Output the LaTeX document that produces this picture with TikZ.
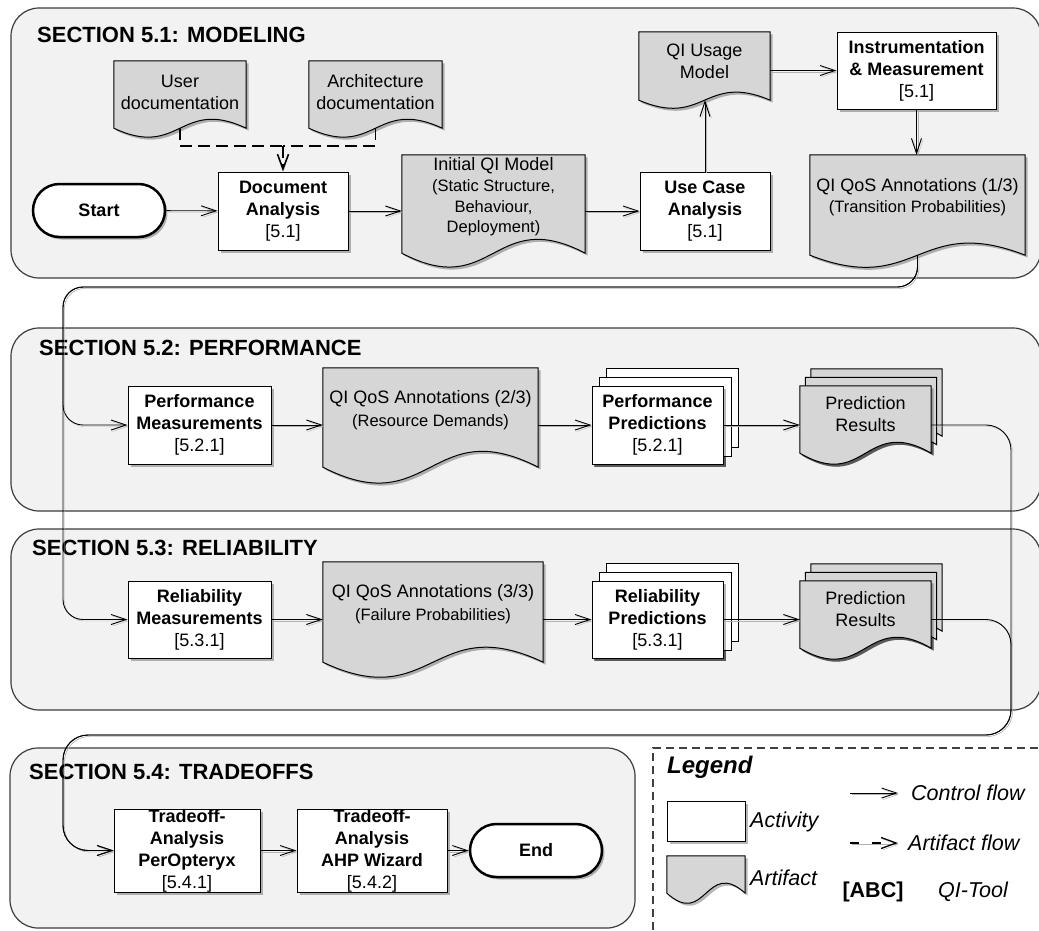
\documentclass[tikz,border=0pt]{standalone}
\usepackage{fontspec}
\setmainfont{Liberation Sans}
\usetikzlibrary{arrows.meta,shadows}

\pgfdeclarelayer{seclayer}
\pgfdeclarelayer{shapelayer}
\pgfsetlayers{seclayer,shapelayer,main}

\definecolor{secfill}{RGB}{242,242,242}
\definecolor{artfill}{RGB}{214,214,214}
\definecolor{secline}{RGB}{60,60,60}

\newcommand\fmain{\fontsize{18}{22}\selectfont}
\newcommand\fsub{\fontsize{16.5}{21}\selectfont}
\newcommand\ftitle{\fontsize{22}{26}\selectfont\bfseries}
\newcommand\flegend{\fontsize{21.5}{26}\selectfont}

% document (artifact) outline around a node: #1 extra options, #2 node,
% #3 how far the sides reach below the node box, #4 wave control offset
\newcommand\docshape[4][]{%
  \filldraw[artifactline,#1] (#2.north west) -- (#2.north east)
    -- ([yshift={-#3pt}]#2.south east)
    .. controls ([yshift={-#3pt+#4pt}]#2.south) and ([yshift={-#3pt-#4pt}]#2.south)
    .. ([yshift={-#3pt}]#2.south west) -- cycle;}

\tikzset{
  sec/.style={fill=secfill, draw=secline, line width=1.2pt, rounded corners=28pt},
  sectitle/.style={anchor=west, font=\ftitle, inner sep=0pt},
  vshadow/.style={drop shadow={shadow xshift=2.5pt, shadow yshift=-2.5pt, opacity=0.28, fill=black}},
  activity/.style={rectangle, draw=black, line width=1pt, fill=white, vshadow,
    align=center, inner sep=0pt, font=\fmain},
  stackline/.style={draw=black, line width=1pt, fill=white, vshadow},
  artifact/.style={rectangle, align=center, inner sep=0pt, font=\fmain},
  artifactline/.style={draw=black, line width=1pt, fill=artfill, vshadow},
  terminal/.style={rectangle, rounded corners=26.5pt, draw=black, line width=2.5pt,
    fill=white, vshadow, font=\fmain\bfseries, minimum width=132pt,
    minimum height=53pt, inner sep=0pt},
  flow/.style={draw=black, line width=0.9pt, -{Straight Barb[length=15pt,width=10pt]},
    preaction={draw=black!30, transform canvas={xshift=1.5pt,yshift=-1.5pt}}},
  artflow/.style={draw=black, line width=1.6pt, dash pattern=on 12pt off 6pt},
  legendline/.style={draw=black!75, line width=1.2pt, dash pattern=on 8pt off 5pt},
  legtext/.style={anchor=west, inner sep=0pt, font=\flegend\itshape},
}

\begin{document}
\begin{tikzpicture}[x=1pt,y=-1pt]
\useasboundingbox (0,0) rectangle (1039,930);

% ---------- section frames ----------
\begin{pgfonlayer}{seclayer}
  \fill[white] (0,0) rectangle (1039,930);
  \draw[sec] (11,8) rectangle (1041,278);
  \draw[sec] (11,328) rectangle (1041,511);
  \draw[sec] (11,529) rectangle (1041,710);
  \draw[sec] (10,748) rectangle (635,928);
\end{pgfonlayer}

\node[sectitle] (t51) at (37,35) {SECTION 5.1: MODELING};
\node[sectitle] (t52) at (39,348) {SECTION 5.2: PERFORMANCE};
\node[sectitle] (t53) at (32,548) {SECTION 5.3: RELIABILITY};
\node[sectitle] (t54) at (29,772) {SECTION 5.4: TRADEOFFS};

% ---------- 5.1 modeling ----------
\node[terminal] (start) at (99,210.5) {Start};
\node[activity, minimum width=130pt, minimum height=78pt] (doc) at (283,211)
  {\textbf{Document}\\\textbf{Analysis}\\{[5.1]}};
\node[artifact, minimum width=132pt, minimum height=63pt] (userdoc) at (180,92.5)
  {User\\documentation};
\node[artifact, minimum width=133pt, minimum height=63pt] (archdoc) at (375.5,92.5)
  {Architecture\\documentation};
\node[artifact, minimum width=183pt, minimum height=84pt,
  font=\fontsize{18}{20.7}\selectfont] (initqi) at (493.5,197)
  {Initial QI Model\\{\fsub (Static Structure,}\\{\fsub Behaviour,}\\{\fsub Deployment)}};
\node[activity, minimum width=130pt, minimum height=78pt] (usecase) at (705,211)
  {\textbf{Use Case}\\\textbf{Analysis}\\{[5.1]}};
\node[artifact, minimum width=131pt, minimum height=58pt] (qiusage) at (704.5,61)
  {QI Usage\\Model};
\node[activity, minimum width=159pt, minimum height=77pt] (instr) at (916.5,70.5)
  {\textbf{Instrumentation}\\\textbf{\& Measurement}\\{[5.1]}};
\node[artifact, minimum width=215pt, minimum height=85pt,
  font=\fontsize{18}{21}\selectfont] (qos1) at (917.5,197.5)
  {QI QoS Annotations (1/3)\\{\fsub (Transition Probabilities)}};

% ---------- 5.2 performance ----------
\node[activity, minimum width=143pt, minimum height=78pt] (perfmeas) at (199.5,425)
  {\textbf{Performance}\\\textbf{Measurements}\\{[5.2.1]}};
\node[artifact, minimum width=215pt, minimum height=85pt,
  font=\fontsize{18}{23}\selectfont] (qos2) at (430.5,410.5)
  {QI QoS Annotations (2/3)\\{\fsub (Resource Demands)}};
\node[activity, minimum width=131pt, minimum height=78pt] (perfpred) at (657.5,425)
  {\textbf{Performance}\\\textbf{Predictions}\\{[5.2.1]}};
\node[artifact, minimum width=131pt, minimum height=56pt] (res1) at (865.5,414)
  {Prediction\\Results};

% ---------- 5.3 reliability ----------
\node[activity, minimum width=143pt, minimum height=77pt] (relmeas) at (199.5,619.5)
  {\textbf{Reliability}\\\textbf{Measurements}\\{[5.3.1]}};
\node[artifact, minimum width=220pt, minimum height=85pt,
  font=\fontsize{18}{23}\selectfont] (qos3) at (433,604.5)
  {QI QoS Annotations (3/3)\\{\fsub (Failure Probabilities)}};
\node[activity, minimum width=131pt, minimum height=77pt] (relpred) at (657.5,619.5)
  {\textbf{Reliability}\\\textbf{Predictions}\\{[5.3.1]}};
\node[artifact, minimum width=131pt, minimum height=56pt] (res2) at (865.5,609)
  {Prediction\\Results};

% ---------- 5.4 tradeoffs ----------
\node[activity, minimum width=146pt, minimum height=83pt] (trade1) at (187,850.5)
  {\textbf{Tradeoff-}\\\textbf{Analysis}\\\textbf{PerOpteryx}\\{[5.4.1]}};
\node[activity, minimum width=150pt, minimum height=83pt] (trade2) at (372,850.5)
  {\textbf{Tradeoff-}\\\textbf{Analysis}\\\textbf{AHP Wizard}\\{[5.4.2]}};
\node[terminal] (end) at (536,850.5) {End};

% ---------- legend ----------
\node[anchor=west, inner sep=0pt, font=\fontsize{24}{28}\selectfont\bfseries\itshape]
  (legtitle) at (667,767) {Legend};
\node[activity, minimum width=78pt, minimum height=40pt] (legact) at (706,821) {};
\node[legtext] (legacttxt) at (750,822) {Activity};
\node[artifact, minimum width=78pt, minimum height=37pt] (legart) at (706,874.5) {};
\node[legtext] (legarttxt) at (750,878) {Artifact};
\node[legtext] (cftxt) at (911,793) {Control flow};
\node[legtext] (aftxt) at (908,843) {Artifact flow};
\node[inner sep=0pt, font=\flegend\bfseries] (abc) at (873,892) {[ABC]};
\node[inner sep=0pt, font=\flegend\itshape] (qitool) at (973,892) {QI-Tool};
\draw[legendline] (653,930) -- (653,748) -- (1039,748);

% ---------- artifact outlines and stacked copies ----------
\begin{pgfonlayer}{shapelayer}
  \docshape{userdoc}{4}{31}
  \docshape{archdoc}{4}{31}
  \docshape{initqi}{14}{48}
  \docshape{qiusage}{10}{28}
  \docshape{qos1}{15}{42}
  \docshape{qos2}{14}{55}
  \docshape{qos3}{15}{52}
  \docshape[transform canvas={xshift=11pt,yshift=17pt}]{res1}{11}{38}
  \docshape[transform canvas={xshift=5.5pt,yshift=8.5pt}]{res1}{11}{38}
  \docshape{res1}{11}{38}
  \docshape[transform canvas={xshift=11pt,yshift=17pt}]{res2}{11}{38}
  \docshape[transform canvas={xshift=5.5pt,yshift=8.5pt}]{res2}{11}{38}
  \docshape{res2}{11}{38}
  \docshape{legart}{0}{35}
  \filldraw[stackline, transform canvas={xshift=15pt,yshift=17pt}]
    (perfpred.south west) rectangle (perfpred.north east);
  \filldraw[stackline, transform canvas={xshift=8pt,yshift=8.5pt}]
    (perfpred.south west) rectangle (perfpred.north east);
  \filldraw[stackline, transform canvas={xshift=15pt,yshift=17pt}]
    (relpred.south west) rectangle (relpred.north east);
  \filldraw[stackline, transform canvas={xshift=8pt,yshift=8.5pt}]
    (relpred.south west) rectangle (relpred.north east);
\end{pgfonlayer}

% wave midpoints of the artifacts
\coordinate (userdoc-w) at ([yshift=-4pt]userdoc.south);
\coordinate (archdoc-w) at ([yshift=-4pt]archdoc.south);
\coordinate (qiusage-w) at ([yshift=-10pt]qiusage.south);
\coordinate (qos1-w) at ([yshift=-15pt]qos1.south);

% ---------- artifact flow ----------
\coordinate (join) at (283,146);
\draw[artflow] (userdoc-w) |- (join);
\draw[artflow] (archdoc-w) |- (join);
\draw[artflow, -{Straight Barb[length=15pt,width=11pt]}] (join) -- (doc.north);

% ---------- control flow ----------
\draw[flow] (start) -- (doc);
\draw[flow] (doc.east) -- (doc.east -| initqi.west);
\draw[flow] (initqi.east |- usecase.west) -- (usecase.west);
\draw[flow] (usecase.north) -- (usecase.north |- qiusage-w);
\draw[flow] (qiusage.east |- instr.west) -- (instr.west);
\draw[flow] (instr.south) -- (instr.south |- qos1.north);

\coordinate (trunkA) at (63,287);
\draw[flow, rounded corners=20pt] (qos1-w) |- (trunkA) |- (perfmeas.west);
\draw[flow, rounded corners=20pt] (qos1-w) |- (trunkA) |- (relmeas.west);

\draw[flow] (perfmeas.east) -- (perfmeas.east -| qos2.west);
\draw[flow] (qos2.east |- perfpred.west) -- (perfpred.west);
\draw[flow] (perfpred.east) -- (perfpred.east -| res1.west);

\draw[flow] (relmeas.east) -- (relmeas.east -| qos3.west);
\draw[flow] (qos3.east |- relpred.west) -- (relpred.west);
\draw[flow] (relpred.east) -- (relpred.east -| res2.west);

\coordinate (trunkB) at (1011,735);
\coordinate (trunkC) at (63,735);
\draw[flow, rounded corners=25pt] (res1.east |- perfpred.east) -| (trunkB) -- (trunkC) |- (trade1.west);
\draw[flow, rounded corners=25pt] (res2.east |- relpred.east) -| (trunkB) -- (trunkC) |- (trade1.west);

\draw[flow] (trade1) -- (trade2);
\draw[flow] (trade2) -- (end);

% legend samples
\coordinate (cf1) at (850,793); \coordinate (cf2) at (898,793);
\coordinate (af1) at (850,843); \coordinate (af2) at (898,843);
\draw[flow] (cf1) -- (cf2);
\draw[draw=black, line width=1.3pt, dash pattern=on 9pt off 13pt,
  -{Straight Barb[length=15pt,width=11pt]},
  preaction={draw=black!30, transform canvas={xshift=1.5pt,yshift=-1.5pt}}] (af1) -- (af2);
\end{tikzpicture}
\end{document}
